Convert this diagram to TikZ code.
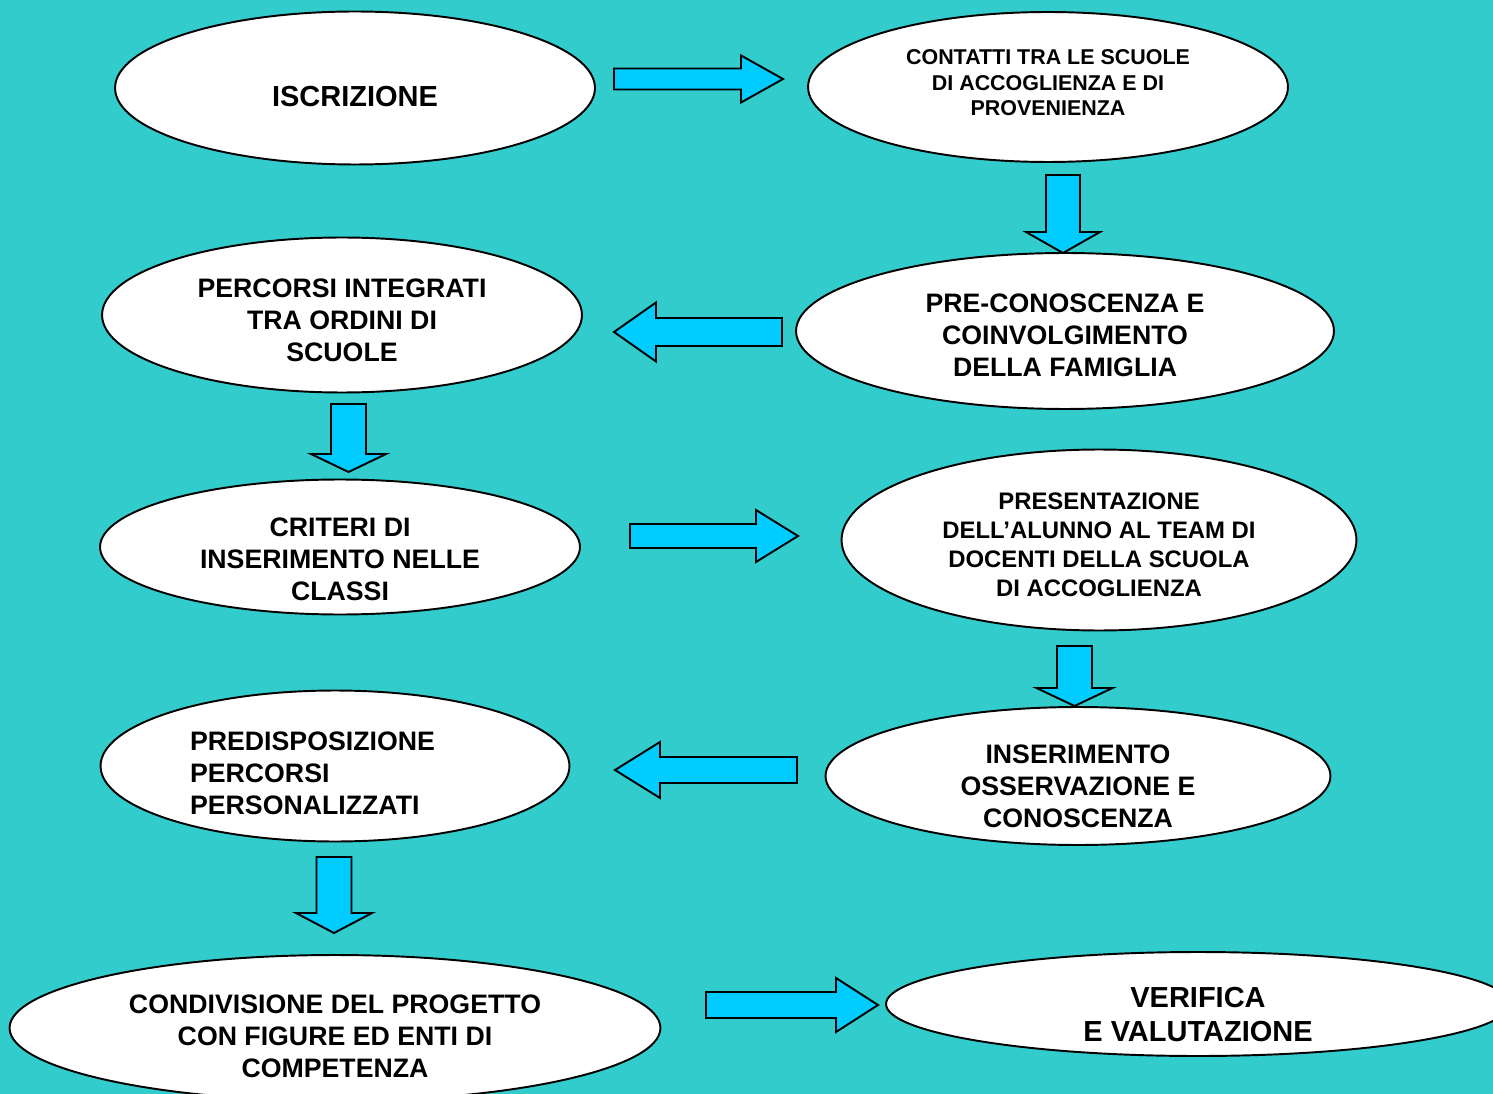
\documentclass[tikz,border=0pt]{standalone}
\usepackage{fontspec}
\setmainfont{Liberation Sans}
\definecolor{bgteal}{HTML}{33CCCC}
\definecolor{arrblue}{HTML}{00CCFF}
\usepackage{tikz}
\usetikzlibrary{shapes.geometric}

\tikzset{
  oval/.style={ellipse,draw=black,line width=1.1pt,fill=white,inner sep=0pt},
  txt/.style={align=center,inner sep=0pt,font=\bfseries\fontsize{15.2}{18.2}\selectfont},
  small/.style={font=\bfseries\fontsize{12.2}{14.5}\selectfont},
  mid/.style={font=\bfseries\fontsize{13.6}{16.5}\selectfont},
  big/.style={font=\bfseries\fontsize{16.5}{19.4}\selectfont},
  barrow/.style={draw=black,line width=1.1pt,fill=arrblue,line join=miter},
  % horizontal block arrow: length/shaft half/head half/head length
  pics/harrow/.style args={#1/#2/#3/#4}{code={
    \draw[barrow] (0,-#2) -- (#1-#4,-#2) -- (#1-#4,-#3) -- (#1,0)
      -- (#1-#4,#3) -- (#1-#4,#2) -- (0,#2) -- cycle;}},
  % vertical block arrow, pointing down
  pics/varrow/.style args={#1/#2/#3/#4}{code={
    \draw[barrow] (-#2,0) -- (-#2,#1-#4) -- (-#3,#1-#4) -- (0,#1)
      -- (#3,#1-#4) -- (#2,#1-#4) -- (#2,0) -- cycle;}}
}

\begin{document}
\begin{tikzpicture}[x=0.02cm,y=-0.02cm]
  \useasboundingbox (0,0) rectangle (1493,1094);
  \fill[bgteal] (0,0) rectangle (1493,1094);
  \clip (0,0) rectangle (1493,1094);

  % left column and right column of steps
  \node[oval,minimum width=9.6cm,minimum height=3.06cm,
    label={[txt,big,yshift=-5.1pt]center:ISCRIZIONE}] (iscr) at (355,88) {};
  \node[oval,minimum width=9.6cm,minimum height=3.0cm,
    label={[txt,small,yshift=2.3pt]center:{CONTATTI TRA LE SCUOLE\\DI ACCOGLIENZA E DI\\PROVENIENZA}}]
    (cont) at (1048,87) {};
  \node[oval,minimum width=9.6cm,minimum height=3.1cm,
    label={[txt,yshift=-2.8pt]center:{PERCORSI INTEGRATI\\TRA ORDINI DI\\SCUOLE}}]
    (perc) at (342,315) {};
  \node[oval,minimum width=10.76cm,minimum height=3.12cm,
    label={[txt,yshift=-2.3pt]center:{PRE-CONOSCENZA E\\COINVOLGIMENTO\\DELLA FAMIGLIA}}]
    (prec) at (1065,331) {};
  \node[oval,minimum width=9.6cm,minimum height=2.7cm,
    label={[txt,yshift=-6.8pt]center:{CRITERI DI\\INSERIMENTO NELLE\\CLASSI}}]
    (crit) at (340,547) {};
  \node[oval,minimum width=10.3cm,minimum height=3.62cm,
    label={[txt,mid,yshift=-2.8pt]center:{PRESENTAZIONE\\DELL’ALUNNO AL TEAM DI\\DOCENTI DELLA SCUOLA\\DI ACCOGLIENZA}}]
    (pres) at (1099,540) {};
  \node[oval,minimum width=9.38cm,minimum height=3.02cm,
    label={[txt,align=left,text width=5.8cm,yshift=-4pt]center:{PREDISPOSIZIONE\\PERCORSI\\PERSONALIZZATI}}]
    (pred) at (335,766) {};
  \node[oval,minimum width=10.1cm,minimum height=2.76cm,
    label={[txt,yshift=-5.7pt]center:{INSERIMENTO\\OSSERVAZIONE E\\CONOSCENZA}}]
    (inse) at (1078,776) {};
  \node[oval,minimum width=13.02cm,minimum height=2.92cm,
    label={[txt,yshift=-4.6pt]center:{CONDIVISIONE DEL PROGETTO\\CON FIGURE ED ENTI DI\\COMPETENZA}}]
    (cond) at (335,1028) {};
  \node[oval,minimum width=12.48cm,minimum height=2.08cm,
    label={[txt,big,yshift=-6pt]center:{VERIFICA\\E VALUTAZIONE}}]
    (veri) at (1198,1004) {};

  % block arrows between the steps
  \pic at (614,79) {harrow=169/10.5/23.5/42};
  \pic at (1063,175) {varrow=78/17/37/21};
  \pic[xscale=-1] at (782,332) {harrow=168/14/29.5/42};
  \pic at (348.5,404) {varrow=68/17.5/37.5/18};
  \pic at (630,536) {harrow=168/12/26/42};
  \pic at (1074.5,646) {varrow=60/17.5/38/18};
  \pic[xscale=-1] at (797,770) {harrow=182/13/28/45};
  \pic at (334,857) {varrow=76/17.5/38/20};
  \pic at (706,1005) {harrow=172/13/27/42};
\end{tikzpicture}
\end{document}
